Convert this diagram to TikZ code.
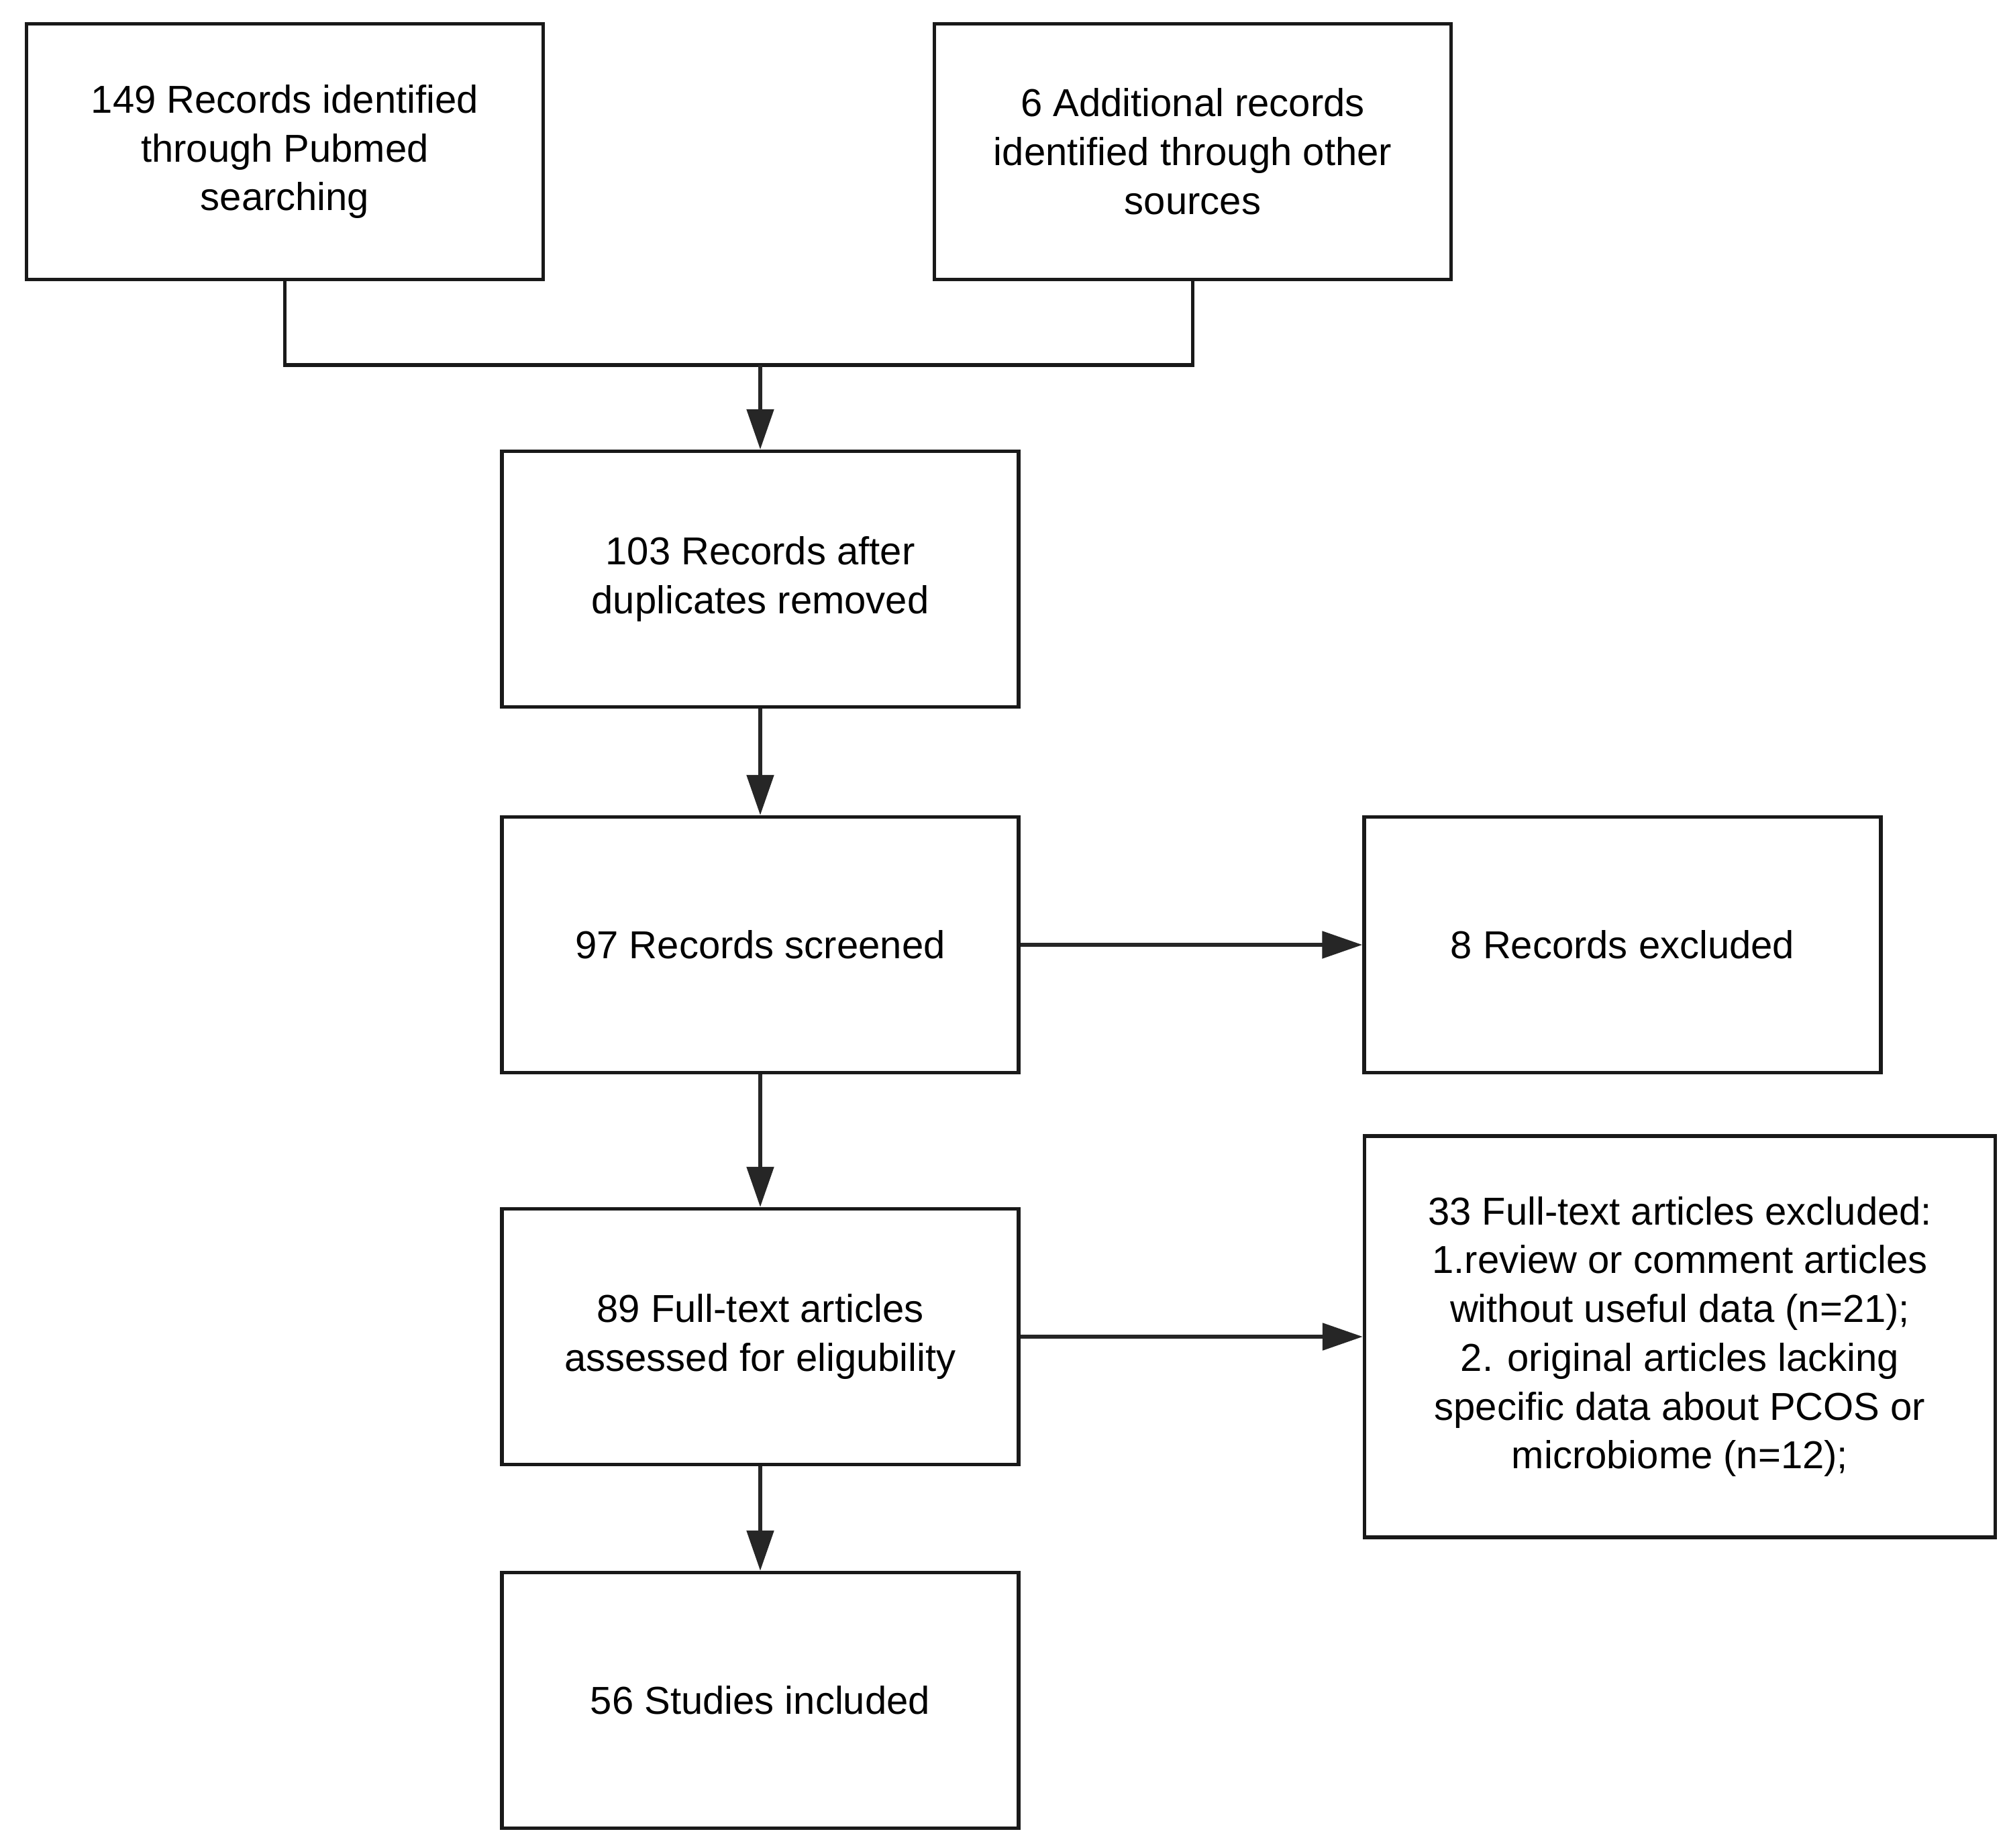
\documentclass[tikz,border=0pt]{standalone}
\usepackage{fontspec}
\setmainfont{Liberation Sans}
\usepackage{tikz}
\usetikzlibrary{arrows.meta}

\begin{document}
\begin{tikzpicture}[box/.style = {draw = black!90, line width = 0.055cm, minimum width = 7.7cm, minimum height = 3.81cm, inner sep = 0pt, align = center, font = \fontsize{16.5}{20.7}\selectfont}, flow/.style = {black!85, line width = 0.055cm, -{Triangle[width = 0.4cm, length = 0.6cm]}}]
\useasboundingbox (0,0) rectangle (29.91,-27.53);

\node[box] (pubmed) at (4.245,-2.26) {149 Records identified\\through Pubmed\\searching};
\node[box] (other) at (17.775,-2.26) {6 Additional records\\identified through other\\sources};
\node[box] (dedup) at (11.33,-8.63) {103 Records after\\duplicates removed};
\node[box] (screened) at (11.33,-14.08) {97 Records screened};
\node[box] (excluded) at (24.18,-14.08) {8 Records excluded};
\node[box] (fulltext) at (11.33,-19.92) {89 Full-text articles\\assessed for eligubility};
\node[box, minimum width = 9.4cm, minimum height = 5.98cm] (ftexcluded) at (25.035,-19.92) {33 Full-text articles excluded:\\1.review or comment articles\\without useful data (n=21);\\2. original articles lacking\\specific data about PCOS or\\microbiome (n=12);};
\node[box] (included) at (11.33,-25.34) {56 Studies included};

\coordinate (join) at (11.33,-5.44);
\draw [black!90, line width = 0.055cm] (pubmed.south) |- (join) -| (other.south);
\draw [flow] (join)--(dedup.north);
\draw [flow] (dedup.south)--(screened.north);
\draw [flow] (screened.south)--(fulltext.north);
\draw [flow] (fulltext.south)--(included.north);
\draw [flow] (screened.east)--(excluded.west);
\draw [flow] (fulltext.east)--(ftexcluded.west |- fulltext.east);
\end{tikzpicture}
\end{document}
